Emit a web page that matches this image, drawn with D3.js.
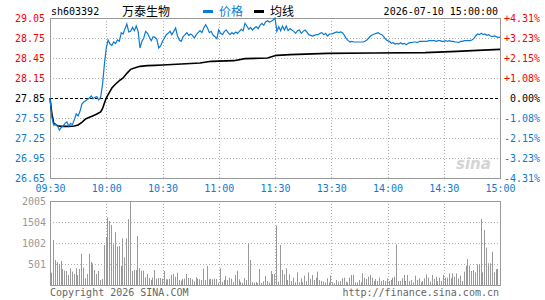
<!DOCTYPE html>
<html>
<head>
<meta charset="utf-8">
<script src="https://cdn.jsdelivr.net/npm/d3@7"></script>
<style>
  body { margin: 0; background: #fff; }
  svg text { font-family: "DejaVu Sans Mono", monospace; font-size: 10px; }
  .cjk { font-family: "Noto Sans CJK SC", sans-serif; font-size: 12px; }
</style>
</head>
<body>
<svg id="chart" width="545" height="300"></svg>
<script>
// minute-by-minute price, 09:30 .. 11:30 then 13:01 .. 15:00 (241 points)
const price = [
  27.85, 27.56, 27.44, 27.46, 27.43, 27.37, 27.41, 27.43, 27.47, 27.49,
  27.43, 27.47, 27.45, 27.53, 27.61, 27.58, 27.65, 27.76, 27.79, 27.81,
  27.83, 27.85, 27.88, 27.84, 27.86, 27.87, 27.82, 27.86, 28.05, 28.35,
  28.60, 28.72, 28.66, 28.64, 28.69, 28.67, 28.72, 28.70, 28.83, 28.81,
  28.89, 28.96, 28.84, 28.85, 28.91, 28.86, 28.93, 28.85, 28.60, 28.70,
  28.75, 28.85, 28.82, 28.76, 28.71, 28.77, 28.76, 28.73, 28.60, 28.63,
  28.70, 28.75, 28.80, 28.82, 28.85, 28.80, 28.85, 28.90, 28.78, 28.72,
  28.70, 28.77, 28.80, 28.83, 28.79, 28.81, 28.79, 28.75, 28.80, 28.83,
  28.86, 28.83, 28.90, 28.95, 28.90, 28.83, 28.85, 28.79, 28.77, 28.74,
  28.87, 28.82, 28.80, 28.85, 28.87, 28.83, 28.80, 28.83, 28.81, 28.84,
  28.82, 28.85, 28.88, 28.86, 28.97, 28.93, 28.88, 28.91, 28.87, 28.90,
  28.92, 28.89, 28.94, 28.97, 28.94, 28.99, 29.01, 28.99, 29.00, 29.02,
  29.05, 28.85, 28.92, 28.86, 28.93, 28.87, 28.93, 28.86, 28.89, 28.87,
  28.85, 28.82, 28.86, 28.87, 28.82, 28.85, 28.87, 28.84, 28.80, 28.79,
  28.78, 28.79, 28.80, 28.80, 28.82, 28.83, 28.80, 28.82, 28.78, 28.81,
  28.81, 28.82, 28.83, 28.84, 28.83, 28.84, 28.83, 28.79, 28.74, 28.71,
  28.69, 28.70, 28.69, 28.69, 28.69, 28.69, 28.69, 28.69, 28.70, 28.72,
  28.75, 28.78, 28.80, 28.81, 28.82, 28.83, 28.81, 28.80, 28.77, 28.73,
  28.71, 28.70, 28.67, 28.68, 28.66, 28.67, 28.66, 28.68, 28.66, 28.67,
  28.65, 28.67, 28.68, 28.68, 28.69, 28.69, 28.68, 28.70, 28.70, 28.70,
  28.70, 28.70, 28.71, 28.71, 28.71, 28.71, 28.70, 28.71, 28.71, 28.70,
  28.70, 28.71, 28.70, 28.71, 28.70, 28.70, 28.69, 28.69, 28.68, 28.70,
  28.70, 28.71, 28.71, 28.71, 28.71, 28.72, 28.74, 28.78, 28.81, 28.80,
  28.82, 28.80, 28.81, 28.79, 28.80, 28.78, 28.77, 28.78, 28.77, 28.76,
  28.76
];

// average price line, read at these minutes
const avgMinutes = [0, 1, 2, 4, 6, 10, 13, 15, 17, 19, 21, 23, 25, 27, 28, 29, 30, 31, 33, 35, 37, 39,
  41, 43, 45, 48, 52, 56, 60, 70, 80, 86, 98, 104, 116, 119, 121, 128, 148, 173, 200, 217, 228, 240];
const avgValues = [27.85, 27.61, 27.47, 27.435, 27.425, 27.425, 27.43, 27.445, 27.485, 27.535, 27.56,
  27.585, 27.61, 27.64, 27.69, 27.77, 27.85, 27.90, 28.00, 28.06, 28.11, 28.15, 28.22, 28.28, 28.30,
  28.325, 28.335, 28.34, 28.345, 28.36, 28.375, 28.40, 28.41, 28.44, 28.45, 28.475, 28.49, 28.50,
  28.52, 28.525, 28.53, 28.55, 28.565, 28.58];

// volume per minute (lots)
const volume = [
  295, 1075, 597, 549, 501, 573, 382, 342, 334, 239,
  398, 318, 263, 398, 239, 382, 740, 414, 159, 263,
  740, 549, 517, 358, 263, 334, 119, 143, 955, 1138,
  1616, 1528, 1433, 971, 1258, 915, 931, 454, 1114, 661,
  1114, 1568, 2005, 334, 358, 358, 1170, 398, 342, 342,
  183, 263, 167, 119, 175, 358, 151, 167, 167, 151,
  334, 135, 135, 143, 239, 263, 199, 295, 119, 103,
  143, 151, 263, 167, 167, 135, 88, 183, 151, 135,
  119, 390, 119, 454, 135, 143, 135, 151, 143, 56,
  398, 72, 119, 215, 119, 175, 151, 72, 239, 342,
  135, 72, 56, 167, 119, 995, 597, 72, 56, 72,
  48, 382, 48, 88, 215, 96, 56, 334, 263, 263,
  1417, 80, 955, 358, 255, 398, 119, 255, 96, 175,
  64, 302, 64, 159, 64, 223, 96, 302, 143, 239,
  119, 175, 318, 119, 96, 80, 64, 159, 64, 223,
  64, 40, 119, 80, 96, 159, 175, 80, 64, 175,
  239, 239, 64, 64, 119, 64, 278, 175, 143, 199,
  239, 175, 96, 143, 96, 175, 96, 119, 96, 159,
  96, 119, 175, 199, 971, 96, 96, 159, 239, 96,
  239, 96, 119, 64, 223, 119, 159, 64, 96, 159,
  255, 175, 80, 239, 143, 199, 96, 175, 96, 239,
  175, 175, 278, 159, 278, 199, 278, 159, 223, 96,
  318, 462, 621, 462, 334, 358, 302, 494, 494, 1576,
  302, 1313, 892, 517, 517, 796, 302, 382, 382
];

const priceTicks = [29.05, 28.75, 28.45, 28.15, 27.85, 27.55, 27.25, 26.95, 26.65];
const pctTicks = [4.31, 3.23, 2.15, 1.08, 0, -1.08, -2.15, -3.23, -4.31];
const timeMinutes = [0, 30, 60, 90, 120, 150, 180, 210, 240];
const timeLabels = ["09:30", "10:00", "10:30", "11:00", "11:30", "13:30", "14:00", "14:30", "15:00"];
const volTicks = [2005, 1504, 1002, 501];

const prevClose = 27.85;
const RED = "#ff0000", BLUE = "#0c7bd3", GRID = "#b0b0b0", FRAME = "#999";

const svg = d3.select("#chart");
const left = 50, right = 500;
const pTop = 18, pBottom = 178;
const vTop = 201, vBottom = 285;

let x = d3.scaleLinear().domain([0, 240]).range([left, right]);
let y = d3.scaleLinear().domain([26.65, 29.05]).range([pBottom, pTop]);
let yPct = d3.scaleLinear().domain([-4.31, 4.31]).range([pBottom, pTop]);
let yVol = d3.scaleLinear().domain([0, 2005]).range([vBottom, vTop]);

const px = v => Math.round(v) + 0.5;

function labelColor(v) {
    if (Math.abs(v - prevClose) < 1e-6) return "#000";
    return v > prevClose ? RED : BLUE;
}

// ---- price panel ----
let grid = svg.append("g");
grid.selectAll(".hg").data(priceTicks.filter(d => d !== prevClose && d !== 29.05 && d !== 26.65))
    .enter().append("line")
    .attr("x1", left).attr("x2", right)
    .attr("y1", d => px(y(d))).attr("y2", d => px(y(d)))
    .attr("stroke", GRID).attr("stroke-dasharray", "1,2");
grid.selectAll(".vg").data(timeMinutes.slice(1, -1))
    .enter().append("line")
    .attr("x1", d => px(x(d))).attr("x2", d => px(x(d)))
    .attr("y1", pTop).attr("y2", pBottom)
    .attr("stroke", GRID).attr("stroke-dasharray", "1,2");

// previous close
svg.append("line")
    .attr("x1", left).attr("x2", right)
    .attr("y1", px(y(prevClose))).attr("y2", px(y(prevClose)))
    .attr("stroke", "#000").attr("stroke-dasharray", "3,2");

svg.append("rect")
    .attr("x", left + 0.5).attr("y", pTop + 0.5)
    .attr("width", right - left).attr("height", pBottom - pTop)
    .attr("fill", "none").attr("stroke", FRAME);

// sina watermark
svg.append("text")
    .attr("x", 456).attr("y", 169)
    .style("font-family", "'DejaVu Sans', sans-serif")
    .style("font-size", "15px").style("font-weight", "bold").style("font-style", "italic")
    .attr("fill", "#d4d4d4")
    .text("sina");

let avgLine = d3.line()
    .x(d => x(d[0]))
    .y(d => y(d[1]));
svg.append("path")
    .datum(avgMinutes.map((m, i) => [m, avgValues[i]]))
    .attr("d", avgLine)
    .attr("fill", "none").attr("stroke", "#000").attr("stroke-width", 1.6);

let priceLine = d3.line()
    .x((d, i) => x(i))
    .y(d => y(d));
svg.append("path")
    .datum(price)
    .attr("d", priceLine)
    .attr("fill", "none").attr("stroke", BLUE).attr("stroke-width", 1.2);

// axes labels
let yAxis = svg.append("g")
    .attr("transform", "translate(" + left + ",0)")
    .call(d3.axisLeft(y).tickValues(priceTicks).tickSize(0).tickPadding(5).tickFormat(d3.format(".2f")));
yAxis.select(".domain").remove();
yAxis.selectAll("text").attr("fill", d => labelColor(d))
    .style("font-family", "'DejaVu Sans Mono', monospace").style("font-size", "10px");

let pctAxis = svg.append("g")
    .attr("transform", "translate(" + right + ",0)")
    .call(d3.axisRight(yPct).tickValues(pctTicks).tickSize(0)
        .tickFormat(d => (d > 0 ? "+" : "") + d.toFixed(2) + "%"));
pctAxis.select(".domain").remove();
pctAxis.selectAll("text")
    .attr("x", 40).attr("text-anchor", "end")
    .attr("fill", d => d === 0 ? "#000" : (d > 0 ? RED : BLUE))
    .style("font-family", "'DejaVu Sans Mono', monospace").style("font-size", "10px");

let xAxis = svg.append("g")
    .attr("transform", "translate(0," + pBottom + ")")
    .call(d3.axisBottom(x).tickValues(timeMinutes).tickSize(0).tickPadding(7)
        .tickFormat((d, i) => timeLabels[i]));
xAxis.select(".domain").remove();
xAxis.selectAll("text").attr("fill", BLUE)
    .style("font-family", "'DejaVu Sans Mono', monospace").style("font-size", "10px");

// ---- volume panel ----
let vgrid = svg.append("g");
vgrid.selectAll("line.h").data(volTicks.slice(1))
    .enter().append("line")
    .attr("x1", left).attr("x2", right)
    .attr("y1", d => px(yVol(d))).attr("y2", d => px(yVol(d)))
    .attr("stroke", GRID).attr("stroke-dasharray", "1,2");
vgrid.selectAll("line.v").data(timeMinutes.slice(1, -1))
    .enter().append("line")
    .attr("x1", d => px(x(d))).attr("x2", d => px(x(d)))
    .attr("y1", vTop).attr("y2", vBottom)
    .attr("stroke", GRID).attr("stroke-dasharray", "1,2");

svg.append("g").selectAll("line")
    .data(volume)
    .enter().append("line")
    .attr("x1", (d, i) => px(x(i + 0.6)))
    .attr("x2", (d, i) => px(x(i + 0.6)))
    .attr("y1", vBottom)
    .attr("y2", d => yVol(d))
    .attr("stroke", "#999").attr("stroke-width", 1);

svg.append("rect")
    .attr("x", left + 0.5).attr("y", vTop + 0.5)
    .attr("width", right - left).attr("height", vBottom - vTop)
    .attr("fill", "none").attr("stroke", FRAME);

let vAxis = svg.append("g")
    .attr("transform", "translate(" + left + ",0)")
    .call(d3.axisLeft(yVol).tickValues(volTicks).tickSize(0).tickPadding(4).tickFormat(d3.format("d")));
vAxis.select(".domain").remove();
vAxis.selectAll("text").attr("fill", "#999")
    .style("font-family", "'DejaVu Sans Mono', monospace").style("font-size", "10px");

// ---- header ----
svg.append("text").attr("x", 51).attr("y", 15).attr("fill", "#000").text("sh603392");
svg.append("text").attr("class", "cjk").attr("x", 122).attr("y", 16).attr("fill", "#000").text("万泰生物");
svg.append("rect").attr("x", 203).attr("y", 10).attr("width", 10).attr("height", 3).attr("fill", BLUE);
svg.append("text").attr("class", "cjk").attr("x", 219).attr("y", 16).attr("fill", BLUE).text("价格");
svg.append("rect").attr("x", 254).attr("y", 10).attr("width", 10).attr("height", 3).attr("fill", "#000");
svg.append("text").attr("class", "cjk").attr("x", 270).attr("y", 16).attr("fill", "#000").text("均线");
svg.append("text").attr("x", 498).attr("y", 15).attr("text-anchor", "end").attr("fill", "#000")
    .text("2026-07-10 15:00:00");

// ---- footer ----
svg.append("text").attr("x", 50).attr("y", 296).attr("fill", "#666").text("Copyright 2026 SINA.COM");
svg.append("text").attr("x", 499).attr("y", 296).attr("text-anchor", "end").attr("fill", "#666")
    .text("http://finance.sina.com.cn");
</script>
</body>
</html>
